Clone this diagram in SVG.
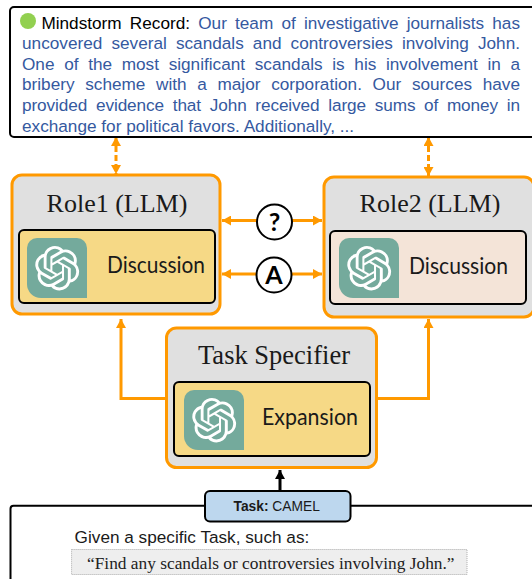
<svg xmlns="http://www.w3.org/2000/svg" xmlns:xlink="http://www.w3.org/1999/xlink" width="532" height="579" viewBox="0 0 532 579">
<defs>
<style>
.sans{font-family:"Liberation Sans",Arial,sans-serif}
.serif{font-family:"Liberation Serif","Times New Roman",serif}
.cal{font-family:Lato,"Noto Sans",sans-serif;font-size:23px;fill:#1a1a1a}
.rec{font-size:17.2px;fill:#35599f}
.outer{fill:#e0e0e0;stroke:#ff9900;stroke-width:3}
.inner{stroke:#000;stroke-width:2}
.title{font-size:26px;fill:#1a1a1a;text-anchor:middle}
.bubble{fill:#fff;stroke:#000;stroke-width:2}
.bubtxt{font-family:Lato,"Noto Sans",sans-serif;font-weight:700;font-size:25px;fill:#000;text-anchor:middle}
.or{fill:none;stroke:#ff9900;stroke-width:3}
</style>
<marker id="ah" markerUnits="userSpaceOnUse" markerWidth="10" markerHeight="10" refX="9" refY="5" orient="auto-start-reverse"><path d="M0 0L9 5L0 10Z" fill="#ff9900"/></marker>
<marker id="ahk" markerUnits="userSpaceOnUse" markerWidth="10" markerHeight="10" refX="9" refY="5" orient="auto"><path d="M0 0L9 5L0 10Z" fill="#000"/></marker>
<symbol id="gpt" viewBox="0 0 60 60" width="60" height="60">
<path d="M10 0H50A10 10 0 0 1 60 10V60H14A14 14 0 0 1 0 46V10A10 10 0 0 1 10 0Z" fill="#74aa9c"/>
<path transform="translate(8 8) scale(1.85)" fill="#fff" d="M22.2819 9.8211a5.9847 5.9847 0 0 0-.5157-4.9108 6.0462 6.0462 0 0 0-6.5098-2.9A6.0651 6.0651 0 0 0 4.9807 4.1818a5.9847 5.9847 0 0 0-3.9977 2.9 6.0462 6.0462 0 0 0 .7427 7.0966 5.98 5.98 0 0 0 .511 4.9107 6.051 6.051 0 0 0 6.5146 2.9001A5.9847 5.9847 0 0 0 13.2599 24a6.0557 6.0557 0 0 0 5.7718-4.2058 5.9894 5.9894 0 0 0 3.9977-2.9001 6.0557 6.0557 0 0 0-.7475-7.0729zm-9.022 12.6081a4.4755 4.4755 0 0 1-2.8764-1.0408l.1419-.0804 4.7783-2.7582a.7948.7948 0 0 0 .3927-.6813v-6.7369l2.02 1.1686a.071.071 0 0 1 .038.052v5.5826a4.504 4.504 0 0 1-4.4945 4.4944zm-9.6607-4.1254a4.4708 4.4708 0 0 1-.5346-3.0137l.142.0852 4.783 2.7582a.7712.7712 0 0 0 .7806 0l5.8428-3.3685v2.3324a.0804.0804 0 0 1-.0332.0615L9.74 19.9502a4.4992 4.4992 0 0 1-6.1408-1.6464zM2.3408 7.8956a4.485 4.485 0 0 1 2.3655-1.9728V11.6a.7664.7664 0 0 0 .3879.6765l5.8144 3.3543-2.0201 1.1685a.0757.0757 0 0 1-.071 0l-4.8303-2.7865A4.504 4.504 0 0 1 2.3408 7.872zm16.5963 3.8558L13.1038 8.364 15.1192 7.2a.0757.0757 0 0 1 .071 0l4.8303 2.7913a4.4944 4.4944 0 0 1-.6765 8.1042v-5.6772a.79.79 0 0 0-.407-.667zm2.0107-3.0231l-.142-.0852-4.7735-2.7818a.7759.7759 0 0 0-.7854 0L9.409 9.2297V6.8974a.0662.0662 0 0 1 .0284-.0615l4.8303-2.7866a4.4992 4.4992 0 0 1 6.6802 4.66zM8.3065 12.863l-2.02-1.1638a.0804.0804 0 0 1-.038-.0567V6.0742a4.4992 4.4992 0 0 1 7.3757-3.4537l-.142.0805L8.704 5.459a.7948.7948 0 0 0-.3927.6813zm1.0976-2.3654l2.602-1.4998 2.6069 1.4998v2.9994l-2.5974 1.4997-2.6067-1.4997Z"/>
</symbol>
</defs>
<rect width="532" height="579" fill="#fff"/>
<g id="connectors">
<path d="M116 137V174" class="or" stroke-dasharray="6 3" marker-start="url(#ah)" marker-end="url(#ah)"/>
<path d="M428.500 137V176" class="or" stroke-dasharray="6 3" marker-start="url(#ah)" marker-end="url(#ah)"/>
<path d="M257 220.500H222" class="or" marker-end="url(#ah)"/>
<path d="M292 220.500H322" class="or" marker-end="url(#ah)"/>
<path d="M256 274H222" class="or" marker-end="url(#ah)"/>
<path d="M292 274H322" class="or" marker-end="url(#ah)"/>
<path d="M166 398.500H121V319" class="or" marker-end="url(#ah)"/>
<path d="M377 398.500H428.500V319" class="or" marker-end="url(#ah)"/>
<path d="M280 491V470" fill="none" stroke="#000" stroke-width="3" marker-end="url(#ahk)"/>
</g>
<g id="record">
<rect x="10" y="7" width="540" height="130" rx="4" fill="#fff" stroke="#000" stroke-width="2"/>
<circle cx="28" cy="21" r="8" fill="#92d050"/>
<text class="sans rec" x="41.400" y="28.600" word-spacing="3.38" textLength="478.600"><tspan fill="#000">Mindstorm Record:</tspan> Our team of investigative journalists has</text>
<text class="sans rec" x="22" y="49.200" word-spacing="4.29" textLength="498">uncovered several scandals and controversies involving John.</text>
<text class="sans rec" x="22" y="69.800" word-spacing="4.87" textLength="498">One of the most significant scandals is his involvement in a</text>
<text class="sans rec" x="22" y="90.400" word-spacing="5.86" textLength="498">bribery scheme with a major corporation. Our sources have</text>
<text class="sans rec" x="22" y="111" word-spacing="3.96" textLength="498">provided evidence that John received large sums of money in</text>
<text class="sans rec" x="22" y="131.600">exchange for political favors. Additionally, ...</text>
</g>
<g id="role1">
<rect class="outer" x="12" y="175" width="208" height="139" rx="10"/>
<text class="serif title" x="117" y="212">Role1 (LLM)</text>
<rect class="inner" x="19" y="230" width="196" height="73" rx="5" fill="#f6d986"/>
<use href="#gpt" x="27" y="238"/>
<text class="cal" x="107" y="273" textLength="98" lengthAdjust="spacingAndGlyphs">Discussion</text>
</g>
<g id="role2">
<rect class="outer" x="324" y="177" width="210" height="140" rx="10"/>
<text class="serif title" x="430" y="212">Role2 (LLM)</text>
<rect class="inner" x="330" y="231" width="196" height="73" rx="5" fill="#f4e4d8"/>
<use href="#gpt" x="339" y="238"/>
<text class="cal" x="409" y="274" textLength="99" lengthAdjust="spacingAndGlyphs">Discussion</text>
</g>
<g id="bubble-q">
<circle class="bubble" cx="274.500" cy="222" r="17.500"/>
<text class="bubtxt" x="274.500" y="231">?</text>
</g>
<g id="bubble-a">
<circle class="bubble" cx="274" cy="275" r="17.500"/>
<text class="bubtxt" x="274" y="284">A</text>
</g>
<g id="task-specifier">
<rect class="outer" x="166.500" y="328" width="210" height="139.500" rx="10"/>
<text class="serif title" style="font-size:26.500px" x="274" y="363.500">Task Specifier</text>
<rect class="inner" x="174" y="382" width="196" height="74" rx="5" fill="#f6d986"/>
<use href="#gpt" x="184" y="390"/>
<text class="cal" x="262" y="425" textLength="96" lengthAdjust="spacingAndGlyphs">Expansion</text>
</g>
<g id="task-panel">
<rect x="10.500" y="505.700" width="540" height="100" rx="3" fill="#fff" stroke="#000" stroke-width="2"/>
<text class="sans" x="74.600" y="543" font-size="17.200" fill="#1a1a1a">Given a specific Task, such as:</text>
<rect x="71.600" y="549.500" width="395.400" height="25" fill="#eee" stroke="#aaa" stroke-width="1" stroke-dasharray="1 1"/>
<text class="serif" x="87" y="568.500" font-size="17.350" fill="#222">“Find any scandals or controversies involving John.”</text>
</g>
<g id="task">
<rect x="205" y="491" width="145.500" height="30.500" rx="5" fill="#bdd7ee" stroke="#000" stroke-width="2"/>
<text class="sans" x="233.500" y="511" font-size="13.800" fill="#1a1a1a"><tspan font-weight="700">Task:</tspan> CAMEL</text>
</g>
</svg>
